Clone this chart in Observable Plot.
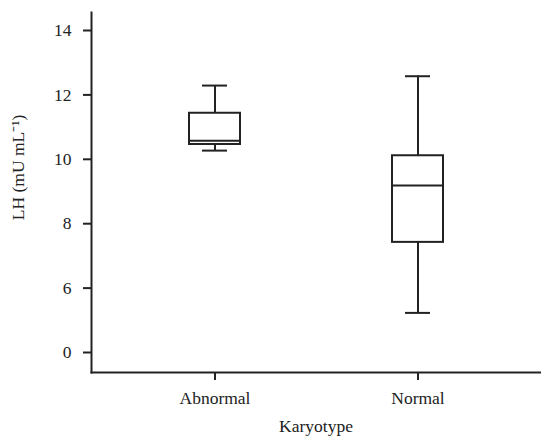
<!DOCTYPE html>
<html>
<head>
<meta charset="utf-8">
<script src="https://cdn.jsdelivr.net/npm/d3@7"></script>
<script src="https://cdn.jsdelivr.net/npm/@observablehq/plot@0.6"></script>
<style>
  html, body { margin: 0; padding: 0; background: #fff; }
  #chart svg { display: block; }
</style>
</head>
<body>
<div id="chart"></div>
<script>
const categories = ["Abnormal", "Normal"];
const whiskerLow = [10.27, 5.23];
const q1 = [10.46, 7.42];
const median = [10.58, 9.19];
const q3 = [11.43, 10.11];
const whiskerHigh = [12.29, 12.58];
// broken axis: the lowest tick position is labelled "0"
const yTickValues = [4, 6, 8, 10, 12, 14];
const yTickLabels = ["0", "6", "8", "10", "12", "14"];
const yLabel = "LH (mU mL\u207B\u00B9)";
const xLabel = "Karyotype";

const rows = categories.map((c, i) => ({
  cat: c, lo: whiskerLow[i], q1: q1[i], med: median[i], q3: q3[i], hi: whiskerHigh[i]
}));

const ink = "#222";
const font = "Liberation Serif, Times New Roman, serif";
const fs = 17.5;

const chart = Plot.plot({
  width: 541,
  height: 436,
  marginLeft: 91,
  marginRight: 1,
  marginTop: 12,
  marginBottom: 64,
  style: {fontFamily: font, fontSize: fs + "px", color: ink, background: "#fff"},
  x: {type: "band", domain: categories, paddingInner: 0.749, paddingOuter: 0.48},
  y: {domain: [3.379, 14.559]},
  marks: [
    Plot.frame({anchor: "left", stroke: ink, strokeWidth: 2}),
    Plot.frame({anchor: "bottom", stroke: ink, strokeWidth: 2}),
    Plot.axisY({
      ticks: yTickValues,
      tickFormat: (d) => yTickLabels[yTickValues.indexOf(d)],
      tickSize: 8, tickPadding: 12, strokeWidth: 2, stroke: ink,
      label: null, fontSize: fs
    }),
    Plot.axisX({
      tickSize: 8, tickPadding: 11, strokeWidth: 2, stroke: ink,
      label: null, fontSize: fs
    }),
    Plot.ruleX(rows, {x: "cat", y1: "lo", y2: "q1", stroke: ink, strokeWidth: 2}),
    Plot.ruleX(rows, {x: "cat", y1: "q3", y2: "hi", stroke: ink, strokeWidth: 2}),
    Plot.barY(rows, {x: "cat", y1: "q1", y2: "q3", fill: "#fff", stroke: ink, strokeWidth: 2}),
    Plot.tickY(rows, {x: "cat", y: "med", stroke: ink, strokeWidth: 2}),
    Plot.tickY(rows, {x: "cat", y: "lo", stroke: ink, strokeWidth: 2, insetLeft: 13, insetRight: 13}),
    Plot.tickY(rows, {x: "cat", y: "hi", stroke: ink, strokeWidth: 2, insetLeft: 13, insetRight: 13}),
    Plot.text([yLabel], {frameAnchor: "left", textAnchor: "middle", rotate: -90, dx: -73, dy: -25, fontSize: fs, fill: ink}),
    Plot.text([xLabel], {frameAnchor: "bottom", dy: 59, fontSize: fs, fill: ink})
  ]
});
document.getElementById("chart").appendChild(chart);
</script>
</body>
</html>
